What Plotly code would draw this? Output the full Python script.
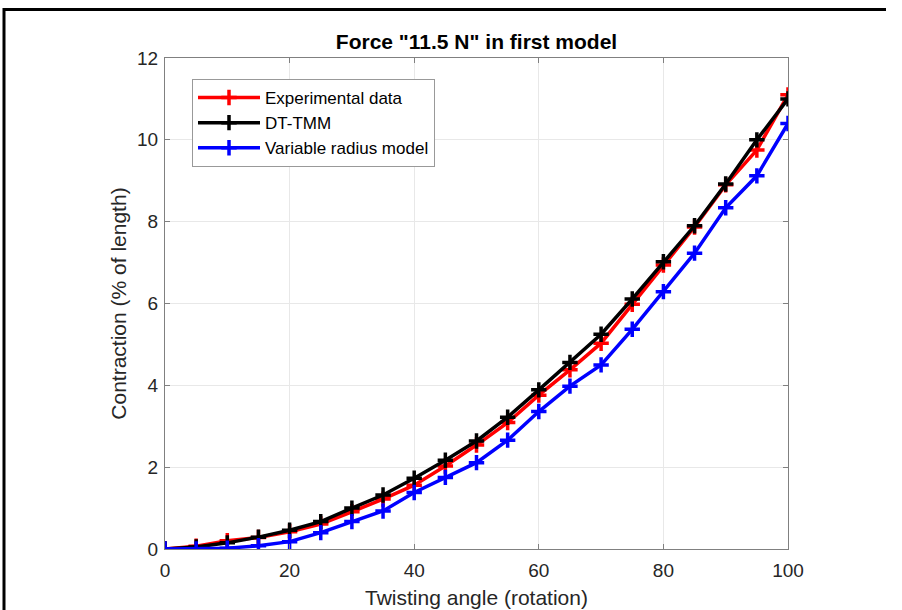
import plotly.graph_objects as go

# ---- data ----
twist = [0, 5, 10, 15, 20, 25, 30, 35, 40, 45, 50, 55, 60, 65, 70, 75, 80, 85, 90, 95, 100]
experimental = [0, 0.07, 0.2, 0.28, 0.42, 0.61, 0.91, 1.22, 1.56, 2.03, 2.54, 3.09, 3.76,
                4.38, 5.03, 5.98, 6.94, 7.87, 8.9, 9.75, 11.1]
dt_tmm = [0, 0.05, 0.15, 0.29, 0.46, 0.67, 1.0, 1.32, 1.73, 2.17, 2.64, 3.22, 3.89,
          4.56, 5.25, 6.11, 7.02, 7.9, 8.92, 10.0, 11.0]
variable_radius = [0, 0.0, 0.02, 0.08, 0.18, 0.4, 0.67, 0.93, 1.38, 1.75, 2.11, 2.66, 3.36,
                   3.98, 4.5, 5.37, 6.29, 7.23, 8.34, 9.12, 10.4]
series_names = ["Experimental data", "DT-TMM", "Variable radius model"]
series_colors = ["#ff0000", "#000000", "#0000ff"]
x_ticks = [0, 20, 40, 60, 80, 100]
y_ticks = [0, 2, 4, 6, 8, 10, 12]

W, H = 902, 610
L, R, T, B = 165, 788, 58, 549

fig = go.Figure()
for name, ys, col in zip(series_names, [experimental, dt_tmm, variable_radius], series_colors):
    fig.add_trace(go.Scatter(
        x=twist, y=ys, name=name, mode="lines+markers",
        line=dict(color=col, width=3.5),
        marker=dict(symbol="cross-thin", size=11, line=dict(color=col, width=3.5), color=col),
    ))

font_family = "Liberation Sans, Arial, Helvetica, sans-serif"
axis_common = dict(
    showline=True, linecolor="#808080", linewidth=1, mirror="ticks",
    ticks="inside", ticklen=5, tickcolor="#808080",
    showgrid=True, gridcolor="#e8e8e8", gridwidth=1, zeroline=False,
    automargin=False,
    tickfont=dict(size=19, color="#262626", family=font_family),
)

fig.update_layout(
    width=W, height=H,
    margin=dict(l=L, r=W - R, t=T, b=H - B),
    paper_bgcolor="white", plot_bgcolor="white",
    font=dict(family=font_family, color="#262626"),
    title=dict(text="<b>Force \"11.5 N\" in first model</b>", x=(L + R) / 2 / W, xanchor="center",
               y=1 - 42 / H, yanchor="middle", font=dict(size=21, color="#000000")),
    xaxis=dict(range=[0, 100], tickvals=x_ticks, ticklabelstandoff=4,
               title=dict(text="Twisting angle (rotation)", font=dict(size=21, color="#262626"), standoff=10),
               **axis_common),
    yaxis=dict(range=[0, 12], tickvals=y_ticks, ticklabelstandoff=2,
               title=dict(text="Contraction (% of length)", font=dict(size=21, color="#262626"), standoff=4),
               **axis_common),
    legend=dict(x=(192 - L) / (R - L), y=(B - 79) / (B - T), xanchor="left", yanchor="top",
                bgcolor="white", bordercolor="#999999", borderwidth=1,
                font=dict(size=17, color="#000000", family=font_family),
                itemwidth=62, tracegroupgap=0),
    showlegend=True,
)

# outer black frame (top and left edges visible in the reference), kept inside the page
px = lambda v: (v - L) / (R - L)
py = lambda v: (B - v) / (B - T)
fig.add_shape(type="line", xref="paper", yref="paper",
              x0=px(4), x1=px(4), y0=py(615), y1=py(8),
              line=dict(color="black", width=3))
fig.add_shape(type="line", xref="paper", yref="paper",
              x0=px(3), x1=px(886), y0=py(9.5), y1=py(9.5),
              line=dict(color="black", width=3))

fig.write_html("out.html")
